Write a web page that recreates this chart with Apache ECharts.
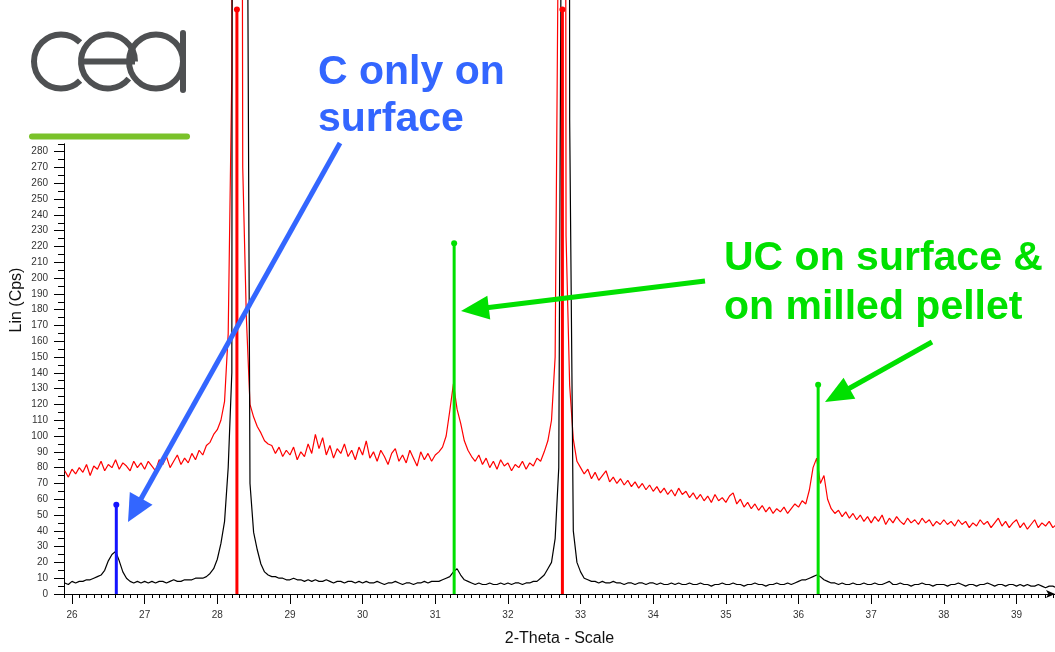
<!DOCTYPE html>
<html>
<head>
<meta charset="utf-8">
<title>XRD - C only on surface</title>
<script src="https://cdn.jsdelivr.net/npm/echarts@6/dist/echarts.min.js"></script>
<style>
  html, body { margin: 0; padding: 0; background: #fff; }
  #main { width: 1055px; height: 652px; }
</style>
</head>
<body>
<div id="main"></div>
<script>
// init chart
const myChart = echarts.init(document.getElementById('main'));

// scan: first angle and step, in deg 2-theta
const thetaStart = 25.9;
const thetaStep = 0.05;

// counts (Cps), one per step
// red curve: pellet surface
const surface = [
  78, 74,
  79, 76, 80, 77, 82, 75, 81, 79, 84, 78, 82, 80, 85, 79, 83, 81, 78, 84, 80, 83,
  79, 84, 81, 78, 85, 82, 87, 80, 84, 88, 82, 86, 83, 89, 85, 91, 88, 94, 96, 101,
  104, 110, 122, 165, 330, 2400, 1600, 270, 175, 120, 112, 106, 102, 97, 95, 94, 89, 93, 87, 91,
  88, 93, 85, 90, 87, 95, 89, 101, 92, 99, 88, 94, 86, 92, 89, 95, 87, 91, 85, 93,
  88, 97, 86, 90, 84, 91, 87, 82, 89, 92, 84, 88, 83, 91, 86, 81, 90, 85, 89, 84,
  88, 90, 93, 100, 116, 133, 117, 108, 97, 91, 87, 84, 88, 82, 86, 80, 84, 79, 85, 81,
  83, 78, 82, 80, 84, 79, 83, 81, 86, 84, 90, 97, 110, 150, 460, 2400, 227, 132, 98, 84,
  80, 76, 79, 73, 77, 72, 75, 78, 71, 74, 70, 73, 69, 72, 68, 71, 67, 70, 66, 69,
  65, 68, 64, 67, 63, 66, 62, 67, 63, 65, 61, 64, 60, 63, 59, 62, 58, 63, 59, 61,
  58, 62, 64, 57, 60, 55, 58, 54, 57, 53, 56, 52, 55, 51, 54, 52, 55, 51, 54, 57,
  55, 59, 57, 66, 80, 86, 70, 75, 60, 54, 51, 53, 49, 52, 48, 51, 47, 50, 46, 49,
  45, 49, 46, 50, 44, 48, 45, 49, 46, 44, 48, 45, 47, 44, 48, 45, 47, 43, 46, 44,
  47, 44, 46, 43, 47, 44, 46, 42, 45, 43, 47, 44, 46, 42, 45, 48, 43, 46, 42, 45,
  47, 42, 45, 41, 44, 47, 42, 45, 43, 46, 42, 44
];
// black curve: milled pellet
const milledPellet = [
  7, 6,
  8, 7, 8, 8, 9, 9, 10, 11, 12, 15, 21, 25, 27, 21, 14, 10, 8, 7, 8, 7,
  8, 7, 8, 7, 8, 8, 7, 8, 9, 8, 8, 9, 9, 9, 10, 10, 10, 11, 13, 16,
  22, 32, 46, 80, 140, 3000, 3000, 2800, 600, 70, 39, 28, 19, 14, 12, 11, 11, 10, 10, 9,
  9, 10, 9, 9, 8, 9, 8, 9, 8, 8, 9, 8, 7, 8, 8, 7, 8, 8, 7, 8,
  7, 8, 7, 7, 8, 7, 6, 7, 7, 8, 7, 6, 7, 7, 6, 7, 7, 8, 7, 8,
  8, 8, 9, 10, 11, 14, 16, 12, 9, 8, 7, 6, 7, 6, 6, 7, 6, 6, 7, 6,
  7, 6, 7, 7, 6, 7, 7, 8, 8, 10, 12, 16, 20, 35, 80, 600, 3000, 300, 40, 20,
  14, 10, 9, 8, 8, 7, 8, 7, 7, 8, 7, 7, 6, 7, 7, 6, 7, 7, 6, 7,
  7, 6, 7, 6, 6, 7, 6, 7, 6, 6, 7, 6, 6, 7, 6, 6, 5, 6, 6, 7,
  6, 6, 7, 6, 6, 5, 6, 6, 7, 6, 6, 5, 6, 6, 7, 6, 6, 7, 6, 7,
  8, 9, 9, 10, 11, 12, 11, 9, 8, 7, 7, 6, 7, 6, 6, 7, 6, 6, 7, 6,
  6, 7, 6, 6, 7, 8, 6, 6, 7, 6, 6, 5, 6, 6, 7, 6, 6, 5, 6, 6,
  6, 5, 6, 6, 7, 6, 5, 6, 6, 5, 6, 6, 7, 6, 5, 6, 6, 5, 6, 6,
  5, 6, 5, 6, 5, 5, 6, 5, 4, 5, 5, 4
];

// reference pattern lines: C, UO2, UC, UO2, UC
const refTheta = [26.61, 28.27, 31.26, 32.75, 36.27];
const refCps = [56.5, 370, 222, 370, 132.5];
const refColors = ['#1414ff', '#ff0000', '#00e000', '#ff0000', '#00e000'];

// tick labels
const xLabels = [26, 27, 28, 29, 30, 31, 32, 33, 34, 35, 36, 37, 38, 39];
const yLabels = [0, 10, 20, 30, 40, 50, 60, 70, 80, 90, 100, 110, 120, 130, 140,
  150, 160, 170, 180, 190, 200, 210, 220, 230, 240, 250, 260, 270, 280];

// minor ticks every 0.1 deg and every 5 cps
const xMinor = [];
for (let i = 0; i <= 136; i++) xMinor.push(Math.round((25.9 + i * 0.1) * 100) / 100);
const yMinor = [];
for (let v = 5; v <= 285; v += 10) yMinor.push(v);

const toPairs = (arr) =>
  arr.map((v, i) => [Math.round((thetaStart + i * thetaStep) * 100) / 100, v]);

const xMin = 25.89, xMax = 39.53;
const font = '"Liberation Sans", Arial, sans-serif';

// reference lines as 2-point lines with a dot on top
const refSeries = refTheta.map((t, i) => ({
  type: 'line',
  clip: false,
  silent: true,
  z: 5,
  symbol: 'circle',
  symbolSize: 6,
  data: [{ value: [t, 0], symbol: 'none' }, { value: [t, refCps[i]] }],
  lineStyle: { color: refColors[i], width: 3 },
  itemStyle: { color: refColors[i] },
}));

// arrow = thick line + triangle head
function arrow(x1, y1, x2, y2, color, width, len, half) {
  const d = Math.hypot(x2 - x1, y2 - y1);
  const ux = (x2 - x1) / d, uy = (y2 - y1) / d;
  const bx = x2 - ux * len, by = y2 - uy * len;
  return [
    { type: 'line', z: 100, shape: { x1: x1, y1: y1, x2: bx + ux * 2, y2: by + uy * 2 },
      style: { stroke: color, lineWidth: width } },
    { type: 'polygon', z: 100,
      shape: { points: [[x2, y2], [bx - uy * half, by + ux * half], [bx + uy * half, by - ux * half]] },
      style: { fill: color } },
  ];
}

const blue = '#3366ff';
const green = '#00e000';
const logo = '#4e5052';

const option = {
  animation: false,
  backgroundColor: '#fff',
  grid: { left: 64, right: 0, top: 143.8, bottom: 57, containLabel: false },
  xAxis: [
    {
      type: 'value', min: xMin, max: xMax, position: 'bottom',
      axisLine: { show: true, lineStyle: { color: '#000', width: 1 }, symbol: ['none', 'arrow'], symbolSize: [6, 9] },
      axisTick: { show: true, customValues: xMinor, length: 4, lineStyle: { color: '#000' } },
      axisLabel: { show: false },
      splitLine: { show: false },
      name: '2-Theta - Scale', nameLocation: 'middle', nameGap: 37,
      nameTextStyle: { fontFamily: font, fontSize: 16, color: '#111' },
    },
    {
      type: 'value', min: xMin, max: xMax, position: 'bottom',
      axisLine: { show: false },
      axisTick: { show: true, customValues: xLabels, length: 10, lineStyle: { color: '#000' } },
      axisLabel: { customValues: xLabels, margin: 16, fontSize: 10, color: '#333', fontFamily: font },
      splitLine: { show: false },
    },
  ],
  yAxis: [
    {
      type: 'value', min: 0, max: 285, position: 'left',
      axisLine: { show: true, lineStyle: { color: '#000', width: 1 } },
      axisTick: { show: true, customValues: yMinor, length: 6, lineStyle: { color: '#000' } },
      axisLabel: { show: false },
      splitLine: { show: false },
    },
    {
      type: 'value', min: 0, max: 285, position: 'left',
      axisLine: { show: false },
      axisTick: { show: true, customValues: yLabels, length: 10, lineStyle: { color: '#000' } },
      axisLabel: { customValues: yLabels, margin: 16, fontSize: 10, color: '#333', fontFamily: font },
      splitLine: { show: false },
    },
  ],
  series: [
    {
      name: 'surface', type: 'line', clip: false, symbol: 'none', z: 3,
      data: toPairs(surface),
      lineStyle: { color: '#ff0000', width: 1.2 },
    },
    {
      name: 'milled pellet', type: 'line', clip: false, symbol: 'none', z: 4,
      data: toPairs(milledPellet),
      lineStyle: { color: '#000', width: 1.2 },
    },
    ...refSeries,
  ],
  graphic: [
    // cea logo
    { type: 'arc', z: 100, shape: { cx: 61, cy: 61.5, r: 27, startAngle: Math.PI / 4, endAngle: Math.PI * 7 / 4 },
      style: { stroke: logo, lineWidth: 6, fill: null } },
    { type: 'arc', z: 100, shape: { cx: 108, cy: 61.5, r: 27, startAngle: Math.PI * 0.22, endAngle: Math.PI * 2 },
      style: { stroke: logo, lineWidth: 6, fill: null } },
    { type: 'line', z: 100, shape: { x1: 81, y1: 61.5, x2: 135, y2: 61.5 }, style: { stroke: logo, lineWidth: 6 } },
    { type: 'arc', z: 100, shape: { cx: 156, cy: 61.5, r: 27, startAngle: 0, endAngle: Math.PI * 2 },
      style: { stroke: logo, lineWidth: 6, fill: null } },
    { type: 'line', z: 100, shape: { x1: 183, y1: 33, x2: 183, y2: 90 }, style: { stroke: logo, lineWidth: 6, lineCap: 'round' } },
    // green bar
    { type: 'line', z: 100, shape: { x1: 32, y1: 136.5, x2: 187, y2: 136.5 },
      style: { stroke: '#7ac22a', lineWidth: 6, lineCap: 'round' } },
    // y axis name
    { type: 'text', z: 100, x: 17, y: 300, rotation: Math.PI / 2,
      style: { text: 'Lin (Cps)', font: '16px ' + font, fill: '#111', align: 'center', verticalAlign: 'middle' } },
    // annotations
    { type: 'text', z: 100, style: { text: 'C only on', x: 318, y: 73, font: 'bold 41px ' + font, fill: blue, verticalAlign: 'middle' } },
    { type: 'text', z: 100, style: { text: 'surface', x: 318, y: 120, font: 'bold 41px ' + font, fill: blue, verticalAlign: 'middle' } },
    { type: 'text', z: 100, style: { text: 'UC on surface &', x: 724, y: 259, font: 'bold 41px ' + font, fill: green, verticalAlign: 'middle' } },
    { type: 'text', z: 100, style: { text: 'on milled pellet', x: 724, y: 308, font: 'bold 41px ' + font, fill: green, verticalAlign: 'middle' } },
    ...arrow(340, 143, 128, 522, blue, 5, 27, 13),
    ...arrow(705, 281, 461, 311, green, 5, 28, 12),
    ...arrow(932, 342, 825, 402, green, 5, 28, 12),
  ],
};

myChart.setOption(option);
</script>
</body>
</html>
